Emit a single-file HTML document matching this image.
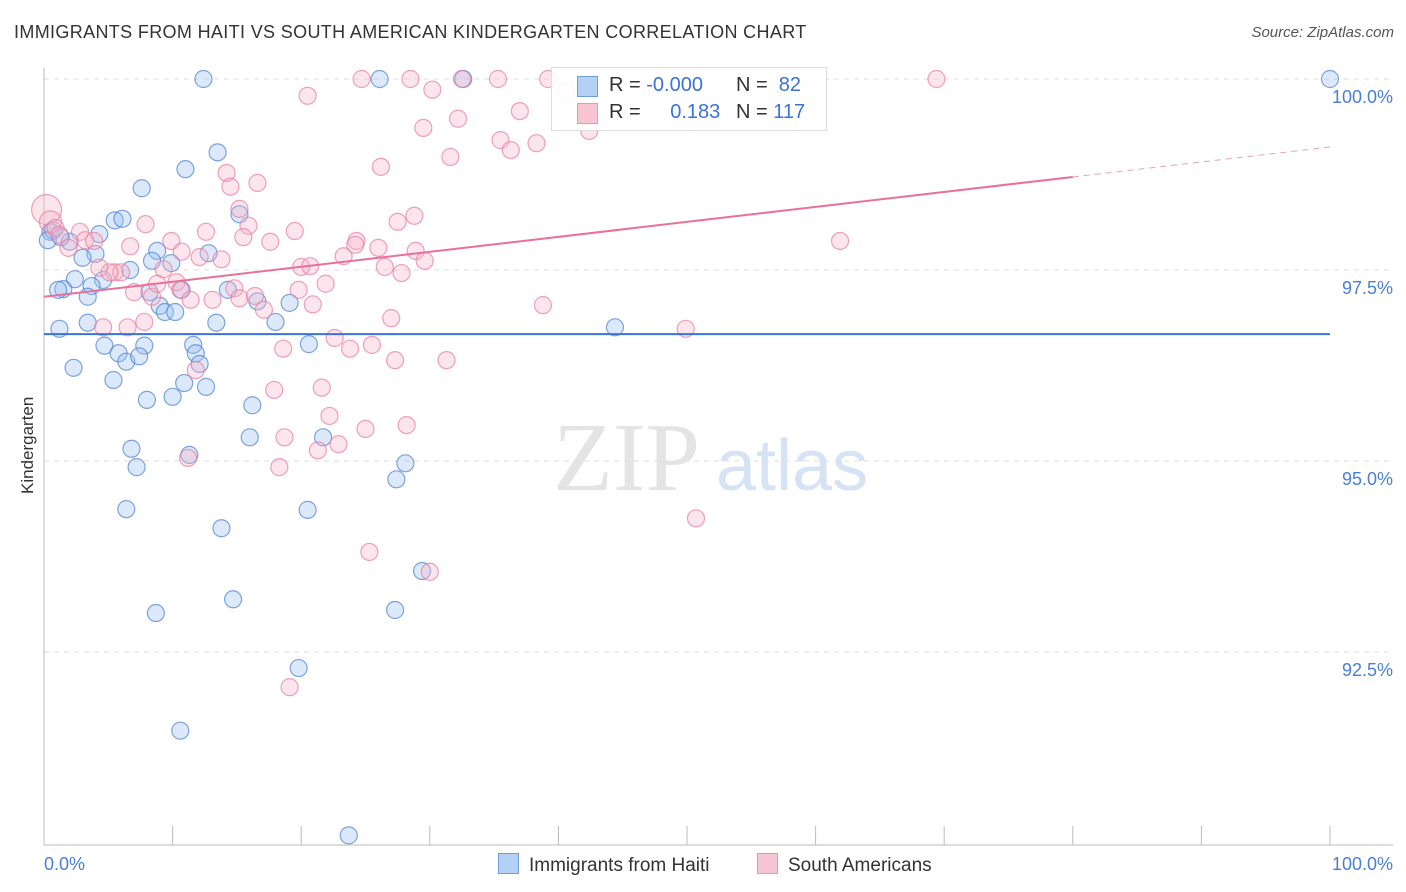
<!DOCTYPE html>
<html><head><meta charset="utf-8">
<style>
body{margin:0;background:#fff;font-family:"Liberation Sans",sans-serif;}
#c{position:relative;width:1406px;height:892px;overflow:hidden;}
.t{position:absolute;white-space:nowrap;}
</style></head>
<body>
<div id="c">
<div class="t" style="left:14px;top:22px;font-size:18px;color:#333;letter-spacing:0.35px">IMMIGRANTS FROM HAITI VS SOUTH AMERICAN KINDERGARTEN CORRELATION CHART</div>
<div class="t" style="right:12px;top:24px;font-size:15px;color:#555;font-style:italic">Source: ZipAtlas.com</div>
<div class="t" style="left:-12px;top:444px;font-size:17px;color:#333;transform:rotate(-90deg);transform-origin:center;width:80px;text-align:center">Kindergarten</div>
<svg id="s" width="1406" height="892" style="position:absolute;left:0;top:0"></svg>
</div>
<script>
const blueX=[12.4,26.1,32.6,100,13.5,11.0,7.6,15.2,5.5,6.1,0.5,0.7,0.3,4.3,2.0,4.0,8.8,12.8,8.4,9.9,3.0,6.7,4.6,2.4,1.5,1.1,3.7,3.4,8.2,10.7,14.3,16.6,19.1,9.0,9.4,10.2,1.2,3.4,13.4,18.0,44.4,4.7,7.8,11.6,5.8,6.4,7.4,11.8,12.1,2.3,5.4,10.9,12.6,8.0,10.0,16.2,16.0,21.7,6.8,11.3,7.2,28.1,27.4,6.4,20.5,13.8,29.4,14.7,8.7,27.3,19.8,10.6,23.7,20.6,1.3];
const blueY=[100,100,100,100,99.04,98.82,98.57,98.23,98.15,98.17,98.0,98.02,97.89,97.97,97.87,97.71,97.75,97.72,97.62,97.59,97.66,97.5,97.37,97.38,97.25,97.24,97.29,97.15,97.21,97.24,97.24,97.09,97.07,97.03,96.95,96.95,96.73,96.81,96.81,96.82,96.75,96.51,96.51,96.52,96.41,96.30,96.37,96.41,96.27,96.22,96.06,96.02,95.97,95.80,95.84,95.73,95.31,95.31,95.16,95.08,94.92,94.97,94.76,94.37,94.36,94.12,93.56,93.19,93.01,93.05,92.29,91.47,90.10,96.53,97.93];
const pinkX=[24.7,28.5,32.5,35.3,39.2,40.6,69.4,20.5,30.2,37.0,32.2,29.5,35.5,38.3,36.3,31.6,42.4,26.2,14.2,16.6,14.5,0.2,0.5,0.9,1.2,1.9,2.8,3.2,3.9,7.9,6.7,9.9,10.7,12.6,15.9,15.5,17.6,19.5,24.3,24.2,26.0,27.5,28.8,28.9,29.6,20.0,20.7,26.5,27.8,23.3,12.1,13.8,9.3,10.3,4.3,5.5,6.0,5.1,7.0,8.4,8.8,10.6,11.4,13.1,14.8,15.2,16.4,17.1,19.8,20.9,21.9,27.0,38.8,49.9,4.6,6.5,7.8,22.6,23.8,25.5,27.3,31.3,18.6,11.8,17.9,21.6,22.2,18.7,21.3,22.9,25.0,28.2,11.2,18.3,50.7,25.3,30.0,19.1,61.9,15.2];
const pinkY=[100,100,100,100,100,99.84,100,99.78,99.86,99.58,99.48,99.36,99.20,99.16,99.07,98.98,99.32,98.85,98.77,98.64,98.59,98.29,98.13,98.05,97.96,97.79,98.0,97.89,97.88,98.10,97.81,97.88,97.74,98.0,98.08,97.93,97.87,98.01,97.88,97.83,97.79,98.13,98.21,97.75,97.62,97.54,97.55,97.54,97.46,97.68,97.67,97.64,97.51,97.34,97.53,97.47,97.47,97.47,97.21,97.15,97.32,97.24,97.11,97.11,97.26,97.13,97.16,96.98,97.24,97.05,97.32,96.87,97.04,96.73,96.75,96.75,96.82,96.61,96.47,96.52,96.32,96.32,96.47,96.19,95.93,95.96,95.59,95.31,95.14,95.22,95.42,95.47,95.04,94.92,94.25,93.81,93.55,92.04,97.88,98.3];
const yTicks=[100,97.5,95,92.5];
const yTickLabels=["100.0%","97.5%","95.0%","92.5%"];
const blueFit=[96.66,0];
const pinkFit=[97.15,0.0196];
const X0=44,X1=1330,Y0=79,PXPERPT=76.4,YB=845;
const sx=v=>X0+(X1-X0)*v/100;
const sy=v=>Y0+(100-v)*PXPERPT;
const s=document.getElementById('s');
const NS='http://www.w3.org/2000/svg';
function mk(tag,at,parent){const e=document.createElementNS(NS,tag);for(const k in at)e.setAttribute(k,at[k]);(parent||s).appendChild(e);return e;}
yTicks.forEach((t,i)=>{
  const g=mk('line',{x1:X0,x2:1393,y1:sy(t),y2:sy(t),stroke:'#ddd','stroke-dasharray':'5,5'});
  
  
  const tx=mk('text',{x:1393,y:sy(t)+24,'text-anchor':'end','font-size':18,fill:'#4a7fd4','font-family':'Liberation Sans, sans-serif'});
  tx.textContent=yTickLabels[i];
  
  
});
const ax=mk('line',{x1:X0,x2:X0,y1:68,y2:YB,stroke:'#bbb'});


const bx=mk('line',{x1:X0,x2:1393,y1:YB,y2:YB,stroke:'#bbb'});


for(let i=0;i<=10;i++){
  const tk=mk('line',{x1:sx(i*10),x2:sx(i*10),y1:826,y2:YB,stroke:'#bbb'});
  
  
}
[[0,'0.0%','start',44],[100,'100.0%','end',1393]].forEach(a=>{
  const t=mk('text',{x:a[3],y:870,'text-anchor':a[2],'font-size':18,fill:'#4a7fd4','font-family':'Liberation Sans, sans-serif'});
  t.textContent=a[1];
  
  
});
const wm=mk('text',{x:553,y:490,'font-size':98,fill:'#e4e4e4','font-family':'Liberation Serif, serif'});wm.textContent='ZIP';


const wm2=mk('text',{x:716,y:490,'font-size':72,fill:'#d6e3f5','font-family':'Liberation Sans, sans-serif'});wm2.textContent='atlas';


function pts(X,Y,fill,stroke,name){
  X.forEach((x,i)=>{
    let r=8.5;
    if(name==='pink-point'&&x<0.3) r=15;
    else if(name==='pink-point'&&x<0.6) r=11;
    const c=mk('circle',{cx:sx(x),cy:sy(Y[i]),r:r,fill:fill,'fill-opacity':0.35,stroke:stroke,'stroke-opacity':0.7,'stroke-width':1.2});
    
    
  });
}
pts(blueX,blueY,'#9cc0f0','#4a7fd4','blue-point');
pts(pinkX,pinkY,'#f5b5c8','#e87a9c','pink-point');
const bl=mk('line',{x1:sx(0),x2:sx(100),y1:sy(blueFit[0]),y2:sy(blueFit[0]+blueFit[1]*100),stroke:'#3a72d8','stroke-width':2});


const pl=mk('line',{x1:sx(0),x2:sx(80),y1:sy(pinkFit[0]),y2:sy(pinkFit[0]+pinkFit[1]*80),stroke:'#e8709a','stroke-width':2});


const pd=mk('line',{x1:sx(80),x2:sx(100),y1:sy(pinkFit[0]+pinkFit[1]*80),y2:sy(pinkFit[0]+pinkFit[1]*100),stroke:'#e8a0b8','stroke-width':1,'stroke-dasharray':'6,5'});


</script>
<div class="t" style="left:551px;top:67px;width:274px;height:62px;border:1px solid #ddd;background:rgba(255,255,255,0.9);font-size:20px;color:#333">
  <div style="position:absolute;left:25px;top:8px;width:19px;height:19px;background:#b5d0f5;border:1px solid #6f9ee0"></div>
  <div style="position:absolute;left:57px;top:6px">R = <span style="color:#3a72d8">-0.000</span></div>
  <div style="position:absolute;left:184px;top:6px">N = <span style="color:#3a72d8">&nbsp;82</span></div>
  <div style="position:absolute;left:25px;top:35px;width:19px;height:19px;background:#f8c4d4;border:1px solid #eb96b1"></div>
  <div style="position:absolute;left:57px;top:33px">R = <span style="color:#3a72d8;margin-left:24px">0.183</span></div>
  <div style="position:absolute;left:184px;top:33px">N = <span style="color:#3a72d8">117</span></div>
</div>
<div class="t" style="left:498px;top:853px;font-size:19px;color:#333"><span style="display:inline-block;width:19px;height:19px;background:#b5d0f5;border:1px solid #6f9ee0;vertical-align:-3px;margin-right:10px"></span>Immigrants from Haiti</div>
<div class="t" style="left:757px;top:853px;font-size:19px;color:#333"><span style="display:inline-block;width:19px;height:19px;background:#f8c4d4;border:1px solid #eb96b1;vertical-align:-3px;margin-right:10px"></span>South Americans</div>
</body></html>
